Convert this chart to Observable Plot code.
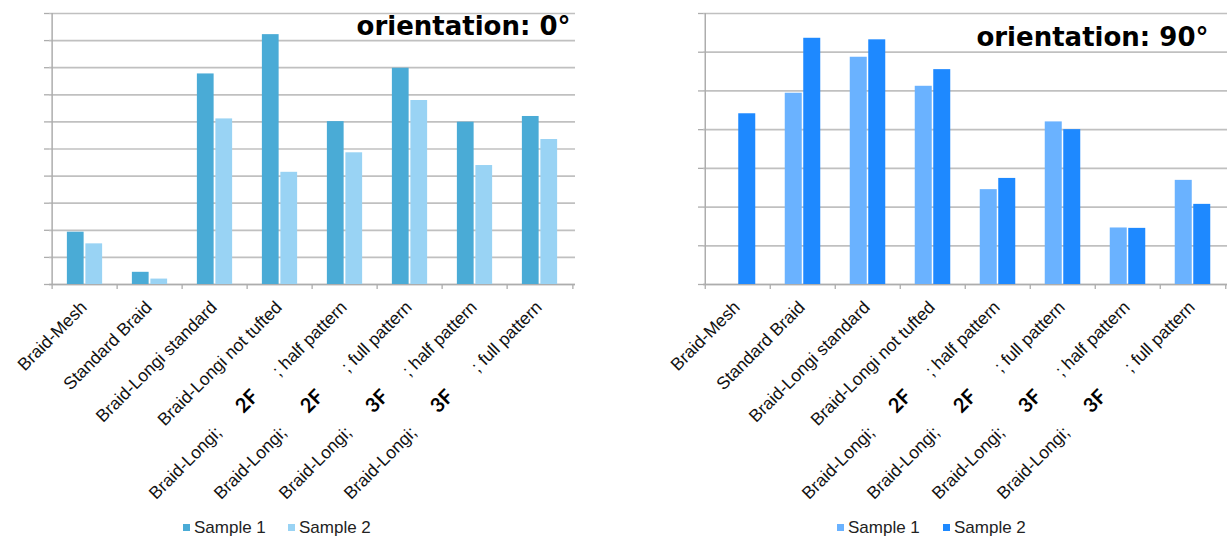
<!DOCTYPE html>
<html>
<head>
<meta charset="utf-8">
<script src="https://cdn.jsdelivr.net/npm/d3@7"></script>
<script src="https://cdn.jsdelivr.net/npm/@observablehq/plot@0.6"></script>
<style>
  body { margin: 0; background: #fff; }
  #wrap { position: relative; width: 1227px; height: 539px; overflow: hidden; }
  .panel { position: absolute; top: 0; }
  .legend { position: absolute; top: 519px; height: 17px; font: 17px/17px "Liberation Sans", Arial, sans-serif; color: #222; white-space: nowrap; }
  .legend .item { position: absolute; top: 0; display: flex; align-items: center; height: 17px; }
  .legend .sw { display: inline-block; width: 7px; height: 7px; margin-right: 4px; }
</style>
</head>
<body>
<div id="wrap"></div>
<script>
// Sample categories (x axis)
const categories = [
  "Braid-Mesh",
  "Standard Braid",
  "Braid-Longi standard",
  "Braid-Longi not tufted",
  "Braid-Longi; 2F; half pattern",
  "Braid-Longi; 2F; full pattern",
  "Braid-Longi; 3F; half pattern",
  "Braid-Longi; 3F; full pattern"
];

// Tick label pieces: leading text, bold code, trailing text
const labelLead = [null, null, null, null, "Braid-Longi;", "Braid-Longi;", "Braid-Longi;", "Braid-Longi;"];
const labelBold = [null, null, null, null, "2F", "2F", "3F", "3F"];
const labelTail = ["Braid-Mesh", "Standard Braid", "Braid-Longi standard", "Braid-Longi not tufted",
                   "; half pattern", "; full pattern", "; half pattern", "; full pattern"];

const seriesNames = ["Sample 1", "Sample 2"];

// orientation 0°
const sample1At0 = [1.93, 0.45, 7.77, 9.22, 6.01, 7.98, 5.99, 6.20];
const sample2At0 = [1.50, 0.20, 6.11, 4.14, 4.86, 6.79, 4.39, 5.35];
const gridTicksAt0 = [0, 1, 2, 3, 4, 5, 6, 7, 8, 9, 10];

// orientation 90°
const sample1At90 = [null, 4.94, 5.87, 5.12, 2.45, 4.20, 1.46, 2.69];
const sample2At90 = [4.41, 6.36, 6.32, 5.55, 2.74, 4.00, 1.45, 2.07];
const gridTicksAt90 = [0, 1, 2, 3, 4, 5, 6, 7];

const titles = ["orientation: 0°", "orientation: 90°"];

const wrap = document.getElementById("wrap");
const gridColor = "#c0c0c0";
const axisColor = "#adadad";
const labelFont = "Liberation Sans, Arial, sans-serif";

function diag(d) { return d * Math.SQRT1_2; }

function panel({left, width, marginLeft, marginRight, yMax, ticks, s1, s2, colors, title, titleDx, titleDy, legendX}) {
  const rows = categories.map((c, i) => ({
    category: c, s1: s1[i], s2: s2[i],
    lead: labelLead[i], bold: labelBold[i], tail: labelTail[i]
  }));
  const bw = (width - marginLeft - marginRight) / categories.length;
  const barW = 18;
  const baseDx = -1, baseDy = 20;

  const chart = Plot.plot({
    width,
    height: 505,
    marginLeft,
    marginRight,
    marginTop: 13,
    marginBottom: 221,
    style: { background: "transparent", overflow: "visible", fontFamily: labelFont },
    x: { domain: categories, padding: 0, axis: null },
    y: { domain: [0, yMax], axis: null },
    marks: [
      Plot.gridY(ticks, { stroke: gridColor, strokeOpacity: 1, strokeWidth: 1.7 }),
      Plot.axisY(ticks, { tickSize: 5, tickFormat: () => "", stroke: axisColor, strokeWidth: 1.3 }),
      // vertical axis line and category separator ticks
      Plot.ruleX([categories[0]], { dx: -bw / 2, stroke: axisColor, strokeWidth: 1.5 }),
      Plot.ruleX(categories, { dx: -bw / 2, y1: 0, y2: 0, insetBottom: -5, stroke: axisColor, strokeWidth: 1.3 }),
      Plot.ruleX([categories[categories.length - 1]], { dx: bw / 2, y1: 0, y2: 0, insetBottom: -5, stroke: axisColor, strokeWidth: 1.3 }),
      Plot.ruleY([0], { stroke: axisColor, strokeWidth: 1.7 }),
      // grouped bars
      Plot.barY(rows, { x: "category", y: "s1", fill: colors[0],
        insetLeft: bw / 2 - barW, insetRight: bw / 2 + 0.5 }),
      Plot.barY(rows, { x: "category", y: "s2", fill: colors[1],
        insetLeft: bw / 2 + 0.5, insetRight: bw / 2 - barW }),
      // rotated category labels
      Plot.text(rows, { x: "category", text: "tail", frameAnchor: "bottom", rotate: -45,
        textAnchor: "end", lineAnchor: "middle", dx: baseDx, dy: baseDy,
        fontSize: 17.5, fontFamily: labelFont, fill: "#111" }),
      Plot.text(rows.filter(d => d.bold), { x: "category", text: "bold", frameAnchor: "bottom", rotate: -45,
        textAnchor: "middle", lineAnchor: "middle", dx: baseDx - diag(137), dy: baseDy + diag(137),
        fontSize: 20, fontWeight: "bold", fontFamily: "Lato, Carlito, sans-serif", fill: "#000" }),
      Plot.text(rows.filter(d => d.lead), { x: "category", text: "lead", frameAnchor: "bottom", rotate: -45,
        textAnchor: "end", lineAnchor: "middle", dx: baseDx - diag(177), dy: baseDy + diag(177),
        fontSize: 17.5, fontFamily: labelFont, fill: "#111" }),
      // panel title
      Plot.text([title], { frameAnchor: "top-right", textAnchor: "end", lineAnchor: "bottom",
        dx: titleDx, dy: titleDy, fontSize: 26, fontWeight: "bold",
        fontFamily: "DejaVu Sans, Verdana, sans-serif", fill: "#000" })
    ]
  });

  const holder = document.createElement("div");
  holder.className = "panel";
  holder.style.left = left + "px";
  holder.appendChild(chart);
  wrap.appendChild(holder);

  // legend below the chart
  const legend = document.createElement("div");
  legend.className = "legend";
  legend.style.left = "0px";
  seriesNames.forEach((name, i) => {
    const item = document.createElement("div");
    item.className = "item";
    item.style.left = legendX[i] + "px";
    const sw = document.createElement("span");
    sw.className = "sw";
    sw.style.background = colors[i];
    const label = document.createElement("span");
    label.textContent = name;
    item.appendChild(sw);
    item.appendChild(label);
    legend.appendChild(item);
  });
  wrap.appendChild(legend);
}

panel({
  left: 0, width: 600, marginLeft: 49, marginRight: 25,
  yMax: 10, ticks: gridTicksAt0,
  s1: sample1At0, s2: sample2At0,
  colors: ["#4aabd6", "#99d3f4"],
  title: titles[0], titleDx: -5, titleDy: 21,
  legendX: [183, 288]
});

panel({
  left: 613, width: 614, marginLeft: 90, marginRight: 0,
  yMax: 7, ticks: gridTicksAt90,
  s1: sample1At90, s2: sample2At90,
  colors: ["#6ab2ff", "#1e89ff"],
  title: titles[1], titleDx: -19, titleDy: 32,
  legendX: [837, 943]
});
</script>
</body>
</html>
